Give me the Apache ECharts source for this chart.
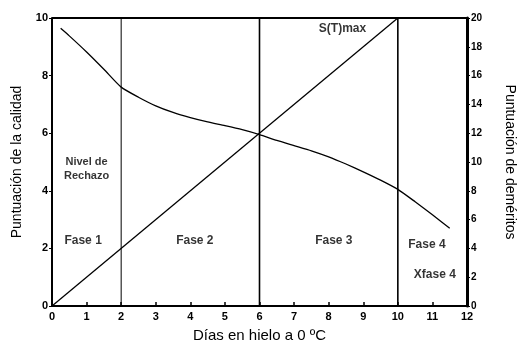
<!DOCTYPE html>
<html><head><meta charset="utf-8">
<script src="https://cdn.jsdelivr.net/npm/echarts@6/dist/echarts.min.js"></script>
<style>html,body{margin:0;padding:0;background:#fff}#c{width:527px;height:354px}</style>
</head><body><div id="c"></div>
<script>
const xTicks = [0,1,2,3,4,5,6,7,8,9,10,11,12];
const qualityDays = [0.25,0.5,1,1.5,2,2.5,3,3.5,4,4.5,5,5.5,6,6.5,7,7.5,8,8.5,9,9.5,10,10.5,11,11.5];
const qualityScore = [9.64,9.38,8.82,8.22,7.6,7.25,6.95,6.72,6.54,6.39,6.26,6.12,5.95,5.75,5.57,5.39,5.18,4.93,4.66,4.37,4.05,3.62,3.17,2.7];
const demeritDays = [0,10];
const demeritScore = [0,20];
const phaseBounds = [2,6,10];
const boundWidths = [1,1.6,1.6];
const annotations = [
  {text:'Nivel de', x:1.0, y:5.0, size:11},
  {text:'Rechazo', x:1.0, y:4.5, size:11},
  {text:'Fase 1', x:0.9, y:2.28, size:12},
  {text:'Fase 2', x:4.13, y:2.28, size:12},
  {text:'Fase 3', x:8.15, y:2.28, size:12},
  {text:'Fase 4', x:10.84, y:2.12, size:12},
  {text:'Xfase 4', x:11.07, y:1.08, size:12},
  {text:'S(T)max', x:8.4, y:9.64, size:12}
];
const font = 'Liberation Sans, Arial, sans-serif';
const chart = echarts.init(document.getElementById('c'));
const series = [];
series.push({type:'line', yAxisIndex:0, data:qualityDays.map((d,i)=>[d,qualityScore[i]]), smooth:0.2, symbol:'none', lineStyle:{color:'#000',width:1.3}, silent:true});
series.push({type:'line', yAxisIndex:1, data:demeritDays.map((d,i)=>[d,demeritScore[i]]), symbol:'none', lineStyle:{color:'#000',width:1.3}, silent:true});
phaseBounds.forEach((b,i)=>{
  series.push({type:'line', yAxisIndex:0, data:[[b,0],[b,10]], symbol:'none', lineStyle:{color:'#000',width:boundWidths[i]}, silent:true});
});
series.push({type:'scatter', yAxisIndex:0, symbolSize:0, silent:true,
  data:annotations.map(a=>({value:[a.x,a.y], label:{show:true, formatter:a.text, position:'inside', color:'#000', fontWeight:'bold', fontSize:a.size, fontFamily:font}}))
});
chart.setOption({
  animation:false,
  backgroundColor:'#fff',
  grid:{left:52,right:60,top:18,bottom:48,containLabel:false,outerBoundsMode:'none'},
  xAxis:{type:'value', min:0, max:12, interval:1,
    name:'Días en hielo a 0 ºC', nameLocation:'middle', nameGap:22,
    nameTextStyle:{color:'#000',fontSize:15,fontFamily:font},
    axisLine:{lineStyle:{color:'#000',width:2}},
    axisTick:{inside:true,length:4,lineStyle:{color:'#000',width:1.5}},
    axisLabel:{color:'#000',fontWeight:'bold',fontSize:11,fontFamily:font,margin:5},
    splitLine:{show:false}},
  yAxis:[
    {type:'value', min:0, max:10, interval:2, position:'left',
      name:'Puntuación de la calidad', nameLocation:'middle', nameGap:28, nameRotate:90,
      nameTextStyle:{color:'#000',fontSize:14,fontFamily:font},
      axisLine:{show:true,lineStyle:{color:'#000',width:2}},
      axisTick:{show:true,length:3,lineStyle:{color:'#000'}},
      axisLabel:{color:'#000',fontWeight:'bold',fontSize:11,fontFamily:font,margin:4},
      splitLine:{show:false}},
    {type:'value', min:0, max:20, interval:2, position:'right',
      name:'Puntuación de deméritos', nameLocation:'middle', nameGap:36, nameRotate:-90,
      nameTextStyle:{color:'#000',fontSize:14,fontFamily:font},
      axisLine:{show:true,lineStyle:{color:'#000',width:3}},
      axisTick:{show:true,length:3,lineStyle:{color:'#000'}},
      axisLabel:{color:'#000',fontWeight:'bold',fontSize:10,fontFamily:font,margin:4},
      splitLine:{show:false}}
  ],
  graphic:[{type:'line', shape:{x1:52,y1:18,x2:467,y2:18}, style:{stroke:'#000',lineWidth:2}, z:10}],
  series:series
});
</script></body></html>
